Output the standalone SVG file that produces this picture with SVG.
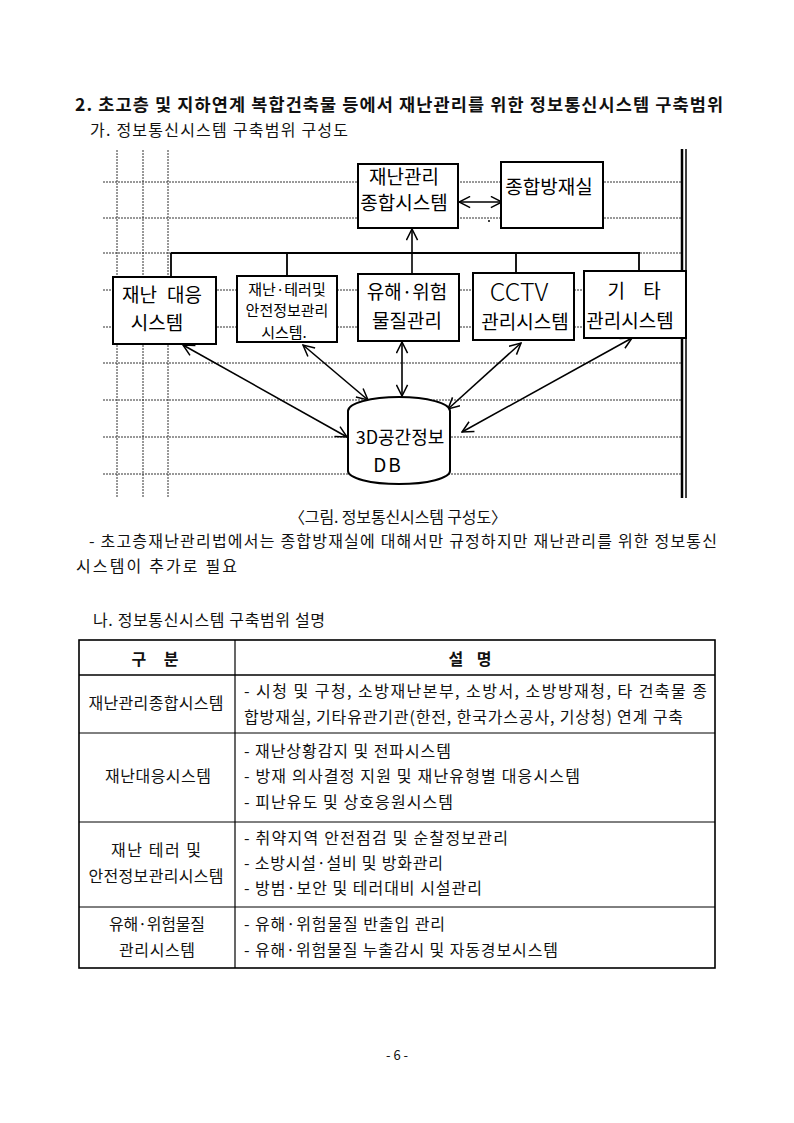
<svg xmlns="http://www.w3.org/2000/svg" width="794" height="1123" viewBox="0 0 794 1123">
<defs>
<style>
.t{font-family:"Noto Sans CJK KR","Noto Sans",sans-serif;font-size:16px;fill:#111}
.b{font-weight:bold}
.c{text-anchor:middle}
.h{font-family:"Noto Sans CJK KR","Noto Sans",sans-serif;font-size:19px;font-weight:400;fill:#000;text-anchor:middle}
.s{font-size:15px}
.grid{stroke:#333;stroke-width:1;stroke-dasharray:2 1;fill:none}
.box{fill:#fff;stroke:#000;stroke-width:2}
.ln{stroke:#000;stroke-width:1.8;fill:none}
.ar{stroke:#000;stroke-width:1.6;fill:none;marker-start:url(#ah);marker-end:url(#ah)}
.tb{stroke:#000;fill:none}
</style>
<marker id="ah" viewBox="0 0 14 14" refX="13" refY="7" markerWidth="13" markerHeight="13" markerUnits="userSpaceOnUse" orient="auto-start-reverse">
<path d="M1,1 L13,7 L1,13" fill="none" stroke="#000" stroke-width="1.6"/>
</marker>
</defs>
<rect width="794" height="1123" fill="#fff"/>

<text class="t b" x="75" y="111" textLength="648" lengthAdjust="spacing" style="font-size:17.5px">2. 초고층 및 지하연계 복합건축물 등에서 재난관리를 위한 정보통신시스템 구축범위</text>
<text class="t" x="90" y="136" textLength="258" lengthAdjust="spacing">가. 정보통신시스템 구축범위 구성도</text>

<g id="grid">
<line class="grid" x1="117" y1="150" x2="117" y2="497"/>
<line class="grid" x1="143" y1="150" x2="143" y2="497"/>
<line class="grid" x1="168" y1="150" x2="168" y2="497"/>
<line class="grid" x1="103" y1="182" x2="682" y2="182"/>
<line class="grid" x1="103" y1="218" x2="682" y2="218"/>
<line class="grid" x1="103" y1="253" x2="682" y2="253"/>
<line class="grid" x1="103" y1="290" x2="682" y2="290"/>
<line class="grid" x1="103" y1="327" x2="682" y2="327"/>
<line class="grid" x1="103" y1="363" x2="682" y2="363"/>
<line class="grid" x1="103" y1="400" x2="682" y2="400"/>
<line class="grid" x1="103" y1="437" x2="682" y2="437"/>
<line class="grid" x1="103" y1="474" x2="682" y2="474"/>
<line x1="682" y1="149" x2="682" y2="498" stroke="#000" stroke-width="2.5"/>
<line x1="686" y1="149" x2="686" y2="498" stroke="#000" stroke-width="1.5"/>
</g>

<g id="connectors">
<path class="ln" d="M171,253 H640 M171,253 V277 M287,253 V276 M516,253 V273 M639,253 V271"/>
<line x1="412" y1="274" x2="412" y2="229" stroke="#000" stroke-width="1.6" marker-end="url(#ah)"/>
<line class="ar" x1="459" y1="202" x2="502" y2="202"/>
<circle cx="489" cy="221" r="1" fill="#000"/>
<line class="ar" x1="183" y1="345" x2="347" y2="437"/>
<line class="ar" x1="303" y1="345" x2="368" y2="400"/>
<line class="ar" x1="402" y1="342" x2="402" y2="396"/>
<line class="ar" x1="521" y1="343" x2="448" y2="409"/>
<line class="ar" x1="632" y1="338" x2="462" y2="432"/>
</g>

<g id="n-integrated">
<rect class="box" x="358" y="164" width="100" height="64"/>
<text class="h" x="404" y="184">재난관리</text>
<text class="h" x="404" y="210">종합시스템</text>
</g>
<g id="n-control-room">
<rect class="box" x="501" y="162" width="102" height="66"/>
<text class="h" x="549" y="194">종합방재실</text>
</g>
<g id="n-response">
<rect class="box" x="113" y="277" width="103" height="67"/>
<text class="h" x="162" y="302" style="word-spacing:6px">재난 대응</text>
<text class="h" x="157" y="330">시스템</text>
</g>
<g id="n-terror">
<rect class="box" x="237" y="276" width="100" height="66"/>
<text class="h s" x="287" y="295">재난·테러및</text>
<text class="h s" x="287" y="316">안전정보관리</text>
<text class="h s" x="284" y="338">시스템.</text>
</g>
<g id="n-hazard">
<rect class="box" x="358" y="274" width="101" height="67"/>
<text class="h" x="407" y="299">유해·위험</text>
<text class="h" x="407" y="328">물질관리</text>
</g>
<g id="n-cctv">
<rect class="box" x="473" y="273" width="101" height="67"/>
<text class="h" x="519" y="301" style="font-size:25px;font-weight:300">CCTV</text>
<text class="h" x="525" y="329">관리시스템</text>
</g>
<g id="n-etc">
<rect class="box" x="584" y="271" width="102" height="67"/>
<text class="h" x="634" y="298" style="word-spacing:14px">기 타</text>
<text class="h" x="630" y="328">관리시스템</text>
</g>
<g id="n-db">
<path d="M348,411 A51,14 0 0 1 450,411 V471 A51,13 0 0 1 348,471 Z" fill="#fff" stroke="#000" stroke-width="2"/>
<text class="h" x="400" y="444" style="font-size:18px">3D공간정보</text>
<text class="h" x="388" y="472" style="letter-spacing:2px">DB</text>
</g>

<text class="t" x="289" y="523" textLength="218" lengthAdjust="spacing">〈그림. 정보통신시스템 구성도〉</text>
<text class="t" x="89" y="547" textLength="628" lengthAdjust="spacing">- 초고층재난관리법에서는 종합방재실에 대해서만 규정하지만 재난관리를 위한 정보통신</text>
<text class="t" x="76" y="572" textLength="161" lengthAdjust="spacing">시스템이 추가로 필요</text>
<text class="t" x="93" y="626" textLength="232" lengthAdjust="spacing">나. 정보통신시스템 구축범위 설명</text>

<g id="table">
<rect class="tb" x="79" y="640" width="636" height="328" stroke-width="1.6"/>
<line class="tb" x1="79" y1="675" x2="715" y2="675" stroke-width="1.6"/>
<line class="tb" x1="79" y1="733" x2="715" y2="733"/>
<line class="tb" x1="79" y1="822" x2="715" y2="822"/>
<line class="tb" x1="79" y1="907" x2="715" y2="907"/>
<line class="tb" x1="235" y1="640" x2="235" y2="968" stroke-width="1.2"/>
<text class="t b c" x="155" y="665" textLength="47" lengthAdjust="spacing">구 분</text>
<text class="t b c" x="470" y="665" textLength="43" lengthAdjust="spacing">설 명</text>
<text class="t c" x="156" y="709" textLength="135" lengthAdjust="spacing">재난관리종합시스템</text>
<text class="t" x="244" y="697" textLength="463" lengthAdjust="spacing">- 시청 및 구청, 소방재난본부, 소방서, 소방방재청, 타 건축물 종</text>
<text class="t" x="244" y="723" textLength="439" lengthAdjust="spacing">합방재실, 기타유관기관(한전, 한국가스공사, 기상청) 연계 구축</text>
<text class="t c" x="158" y="782" textLength="106" lengthAdjust="spacing">재난대응시스템</text>
<text class="t" x="244" y="757" textLength="207" lengthAdjust="spacing">- 재난상황감지 및 전파시스템</text>
<text class="t" x="244" y="782" textLength="336" lengthAdjust="spacing">- 방재 의사결정 지원 및 재난유형별 대응시스템</text>
<text class="t" x="244" y="808" textLength="209" lengthAdjust="spacing">- 피난유도 및 상호응원시스템</text>
<text class="t c" x="156" y="856" textLength="90" lengthAdjust="spacing">재난 테러 및</text>
<text class="t c" x="156" y="882" textLength="135" lengthAdjust="spacing">안전정보관리시스템</text>
<text class="t" x="244" y="844" textLength="264" lengthAdjust="spacing">- 취약지역 안전점검 및 순찰정보관리</text>
<text class="t" x="244" y="869" textLength="199" lengthAdjust="spacing">- 소방시설·설비 및 방화관리</text>
<text class="t" x="244" y="894" textLength="238" lengthAdjust="spacing">- 방범·보안 및 테러대비 시설관리</text>
<text class="t c" x="157" y="930" textLength="96" lengthAdjust="spacing">유해·위험물질</text>
<text class="t c" x="157" y="956" textLength="76" lengthAdjust="spacing">관리시스템</text>
<text class="t" x="244" y="930" textLength="201" lengthAdjust="spacing">- 유해·위험물질 반출입 관리</text>
<text class="t" x="244" y="956" textLength="314" lengthAdjust="spacing">- 유해·위험물질 누출감시 및 자동경보시스템</text>
</g>

<text class="t c" x="397" y="1060" style="font-size:13px">- 6 -</text>
</svg>
